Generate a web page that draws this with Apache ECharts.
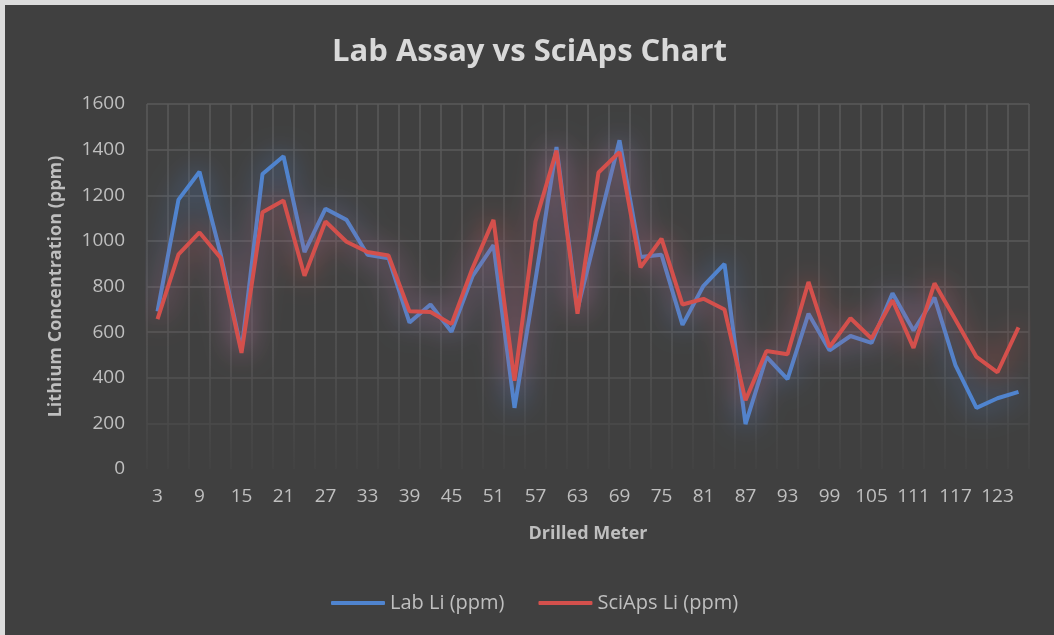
<!DOCTYPE html>
<html>
<head>
<meta charset="utf-8">
<title>Lab Assay vs SciAps Chart</title>
<script src="https://cdn.jsdelivr.net/npm/echarts@6/dist/echarts.min.js"></script>
<style>
    html, body { margin: 0; padding: 0; background: #dcdcdc; }
    #main { position: absolute; left: 5px; top: 5px; width: 1049px; height: 630px; background: #404040; }
</style>
</head>
<body>
<div id="main"></div>
<script>
// drilled meter (x axis)
var meters = ['3', '6', '9', '12', '15', '18', '21', '24', '27', '30', '33', '36', '39', '42',
    '45', '48', '51', '54', '57', '60', '63', '66', '69', '72', '75', '78', '81', '84',
    '87', '90', '93', '96', '99', '102', '105', '108', '111', '114', '117', '120', '123', '126'];

// Lab Li (ppm)
var labLi = [691, 1181, 1303, 945, 520, 1293, 1371, 951, 1141, 1092, 939, 924, 642, 721,
    602, 845, 981, 268, 830, 1411, 700, 1070, 1441, 929, 939, 632, 803, 899,
    197, 491, 394, 681, 520, 583, 553, 770, 607, 751, 454, 268, 310, 338];

// SciAps Li (ppm)
var sciLi = [657, 941, 1037, 926, 509, 1126, 1177, 847, 1085, 996, 951, 936, 691, 688,
    635, 880, 1092, 387, 1085, 1396, 681, 1300, 1389, 884, 1010, 721, 746, 699,
    301, 517, 503, 820, 535, 661, 572, 740, 531, 814, 654, 491, 424, 621];

var blue = '#4f84cf';
var red = '#d4504c';
var txt = '#bfbfbf';
var font = 'Open Sans';

var myChart = echarts.init(document.getElementById('main'));

var option = {
    backgroundColor: '#404040',
    animation: false,
    textStyle: { fontFamily: font },
    title: {
        text: 'Lab Assay vs SciAps Chart',
        left: 'center',
        top: 27,
        textStyle: { color: '#d9d9d9', fontSize: 31, fontWeight: 'bold', fontFamily: font }
    },
    grid: {
        left: 142,
        right: 25,
        top: 99,
        bottom: 166
    },
    legend: {
        left: 321,
        top: 583,
        icon: 'roundRect',
        itemWidth: 54,
        itemHeight: 4,
        itemGap: 34,
        textStyle: { color: txt, fontSize: 20, fontFamily: font },
        data: ['Lab Li (ppm)', 'SciAps Li (ppm)']
    },
    xAxis: {
        type: 'category',
        data: meters,
        name: 'Drilled Meter',
        nameLocation: 'middle',
        nameGap: 56,
        nameTextStyle: { color: txt, fontSize: 18, fontWeight: 'bold' },
        axisLine: { show: false },
        axisTick: { show: false },
        axisLabel: { interval: 1, color: txt, fontSize: 19, margin: 18 },
        splitLine: {
            show: true,
            interval: 0,
            lineStyle: {
                width: 1.5,
                color: new echarts.graphic.LinearGradient(0, 0, 0, 1, [
                    { offset: 0, color: '#5a5a5a' },
                    { offset: 0.7, color: '#535353' },
                    { offset: 1, color: '#434343' }
                ])
            }
        }
    },
    yAxis: {
        type: 'value',
        min: 0,
        max: 1600,
        interval: 200,
        name: 'Lithium Concentration (ppm)',
        nameLocation: 'middle',
        nameGap: 82,
        nameTextStyle: { color: txt, fontSize: 18, fontWeight: 'bold' },
        axisLabel: {
            color: txt,
            fontSize: 19,
            margin: 22,
            formatter: function (v) { return String(v); }
        },
        axisLine: { show: false },
        axisTick: { show: false },
        splitLine: {
            lineStyle: {
                width: 1.5,
                color: ['#404040', '#4b4b4b', '#525252', '#575757', '#5a5a5a', '#5a5a5a', '#5a5a5a', '#5a5a5a', '#5a5a5a']
            }
        }
    },
    series: [
        {
            name: 'Lab Li (ppm)',
            type: 'line',
            data: labLi,
            symbol: 'none',
            itemStyle: { color: blue },
            lineStyle: {
                color: blue,
                width: 4,
                shadowBlur: 28,
                shadowColor: 'rgba(79, 132, 207, 1)'
            }
        },
        {
            name: 'SciAps Li (ppm)',
            type: 'line',
            data: sciLi,
            symbol: 'none',
            itemStyle: { color: red },
            lineStyle: {
                color: red,
                width: 4,
                shadowBlur: 28,
                shadowColor: 'rgba(212, 80, 76, 1)'
            }
        }
    ]
};

myChart.setOption(option);
</script>
</body>
</html>
